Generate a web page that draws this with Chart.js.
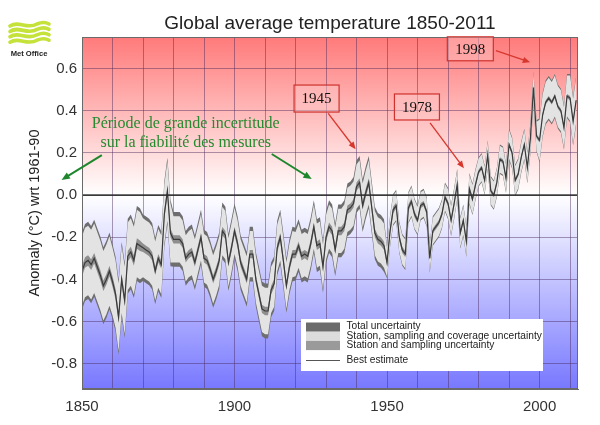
<!DOCTYPE html>
<html>
<head>
<meta charset="utf-8">
<script src="https://cdn.jsdelivr.net/npm/chart.js@4.4.0/dist/chart.umd.min.js"></script>
<style>
  html, body { margin: 0; padding: 0; background: #fff; }
</style>
</head>
<body>
<canvas id="chart" width="600" height="425"></canvas>
<script>
// annual best estimate (1850 .. 2012)
const firstYear = 1850;
const bestEstimate = [
  -0.36, -0.32, -0.31, -0.33, -0.30, -0.34, -0.38, -0.43, -0.40, -0.36,
  -0.41, -0.47, -0.58, -0.40, -0.50, -0.29, -0.27, -0.31, -0.23, -0.24,
  -0.25, -0.26, -0.27, -0.29, -0.36, -0.30, -0.33, -0.09,  0.02, -0.18,
  -0.21, -0.21, -0.21, -0.23, -0.30, -0.28, -0.27, -0.32, -0.26, -0.20,
  -0.30, -0.31, -0.35, -0.40, -0.36, -0.31, -0.17, -0.19, -0.32, -0.25,
  -0.17, -0.23, -0.32, -0.36, -0.40, -0.28, -0.28, -0.40, -0.47, -0.54,
  -0.55, -0.55, -0.45, -0.42, -0.25, -0.20, -0.31, -0.43, -0.34, -0.28,
  -0.28, -0.24, -0.29, -0.28, -0.29, -0.23, -0.15, -0.24, -0.23, -0.34,
  -0.20, -0.15, -0.17, -0.26, -0.17, -0.17, -0.15, -0.07, -0.06, -0.04,
   0.04,  0.06, -0.05,  0.01,  0.06, -0.06, -0.18, -0.21, -0.22, -0.24,
  -0.32, -0.17, -0.07, -0.05, -0.20, -0.26, -0.28, -0.06, -0.03, -0.09,
  -0.12, -0.05, -0.04, -0.08, -0.30, -0.17, -0.15, -0.13, -0.09, -0.01,
  -0.04, -0.12, -0.04,  0.05, -0.18, -0.12, -0.22,  0.03, -0.02,  0.05,
   0.11,  0.13,  0.07,  0.19,  0.02,  0.00,  0.06,  0.17,  0.16,  0.08,
   0.24,  0.20,  0.07,  0.10,  0.18,  0.24,  0.13,  0.27,  0.51,  0.28,
   0.26,  0.38,  0.44,  0.46,  0.44,  0.47,  0.42,  0.40,  0.32,  0.47,
   0.46,  0.35,  0.45
];
const years = bestEstimate.map((v, i) => firstYear + i);

// uncertainty half-widths per decade (1850s .. 2010s)
const totalUnc    = [0.183, 0.178, 0.158, 0.130, 0.135, 0.130, 0.130, 0.125, 0.125, 0.125, 0.075, 0.070, 0.075, 0.070, 0.075, 0.105, 0.115];
const coverageUnc = [0.165, 0.160, 0.140, 0.110, 0.115, 0.110, 0.110, 0.105, 0.105, 0.105, 0.068, 0.063, 0.068, 0.064, 0.068, 0.097, 0.107];
const samplingUnc = [0.025, 0.025, 0.020, 0.020, 0.020, 0.020, 0.020, 0.020, 0.020, 0.020, 0.015, 0.012, 0.012, 0.010, 0.010, 0.010, 0.010];

const xTicks = [1850, 1860, 1870, 1880, 1890, 1900, 1910, 1920, 1930, 1940, 1950, 1960, 1970, 1980, 1990, 2000, 2010];
const xLabelYears = [1850, 1900, 1950, 2000];
const yTicks = [-0.8, -0.6, -0.4, -0.2, 0.0, 0.2, 0.4, 0.6];

const legendLabels = [
  'Total uncertainty',
  'Station, sampling and coverage uncertainty',
  'Station and sampling uncertainty',
  'Best estimate'
];

function band(halfWidths, sign) {
  return years.map((yr, i) => ({
    x: yr,
    y: bestEstimate[i] + sign * halfWidths[Math.floor((yr - firstYear) / 10)]
  }));
}

const bandStyle = { borderWidth: 0, pointRadius: 0, tension: 0 };

// background gradient: red above 0, blue below
const backgroundPlugin = {
  id: 'backgroundPlugin',
  beforeDraw(chart) {
    const { ctx, chartArea: a, scales } = chart;
    const zero = scales.y.getPixelForValue(0);
    const stop = (zero - a.top) / (a.bottom - a.top);
    const g = ctx.createLinearGradient(0, a.top, 0, a.bottom);
    g.addColorStop(0, 'rgb(255,122,122)');
    g.addColorStop(stop, 'rgb(255,255,255)');
    g.addColorStop(1, 'rgb(120,120,255)');
    ctx.save();
    ctx.fillStyle = g;
    ctx.fillRect(a.left, a.top, a.right - a.left, a.bottom - a.top);
    ctx.restore();
  }
};

const framePlugin = {
  id: 'framePlugin',
  afterDatasetsDraw(chart) {
    const { ctx, chartArea: a, scales } = chart;
    const zero = scales.y.getPixelForValue(0);
    ctx.save();
    ctx.strokeStyle = 'rgba(45,45,45,0.9)';
    ctx.lineWidth = 1.8;
    ctx.beginPath();
    ctx.moveTo(a.left, zero);
    ctx.lineTo(a.right, zero);
    ctx.stroke();
    ctx.strokeStyle = '#6a6a6a';
    ctx.lineWidth = 1;
    ctx.strokeRect(a.left + 0.5, a.top + 0.5, a.right - a.left - 1, a.bottom - a.top - 1);
    ctx.restore();
  }
};

function arrow(ctx, x1, y1, x2, y2, color, width, head) {
  const ang = Math.atan2(y2 - y1, x2 - x1);
  ctx.strokeStyle = color;
  ctx.fillStyle = color;
  ctx.lineWidth = width;
  ctx.beginPath();
  ctx.moveTo(x1, y1);
  ctx.lineTo(x2 - Math.cos(ang) * head * 0.8, y2 - Math.sin(ang) * head * 0.8);
  ctx.stroke();
  ctx.beginPath();
  ctx.moveTo(x2, y2);
  ctx.lineTo(x2 - head * Math.cos(ang - 0.4), y2 - head * Math.sin(ang - 0.4));
  ctx.lineTo(x2 - head * Math.cos(ang + 0.4), y2 - head * Math.sin(ang + 0.4));
  ctx.closePath();
  ctx.fill();
}

// annotation positions in data units (year, anomaly)
const greenNote = { x: 1884, y: 0.337, lines: ['Période de grande incertitude', 'sur la fiabilité des mesures'] };
const greenArrows = [
  [1856.5, 0.190, 1843.3, 0.072],
  [1912.2, 0.195, 1925.3, 0.076]
];
const yearBoxes = [
  { text: '1945', x: 1926.9, y: 0.458, w: 45, h: 27, arrow: [1930.7, 0.388, 1939.7, 0.217] },
  { text: '1978', x: 1959.8, y: 0.418, w: 45, h: 26, arrow: [1964.1, 0.343, 1975.2, 0.127] },
  { text: '1998', x: 1977.3, y: 0.694, w: 46, h: 24, arrow: [1985.7, 0.685, 1996.9, 0.630] }
];

const notesPlugin = {
  id: 'notesPlugin',
  afterDraw(chart) {
    const { ctx, scales } = chart;
    const px = v => scales.x.getPixelForValue(v);
    const py = v => scales.y.getPixelForValue(v);
    ctx.save();

    // green note
    ctx.font = '16px "Liberation Serif", "DejaVu Serif", serif';
    ctx.fillStyle = 'rgb(38,138,48)';
    ctx.textAlign = 'center';
    ctx.textBaseline = 'middle';
    ctx.fillText(greenNote.lines[0], px(greenNote.x), py(greenNote.y));
    ctx.fillText(greenNote.lines[1], px(greenNote.x), py(greenNote.y) + 19);
    greenArrows.forEach(a => arrow(ctx, px(a[0]), py(a[1]), px(a[2]), py(a[3]), 'rgb(30,135,45)', 2, 9));

    // red year boxes
    yearBoxes.forEach(b => {
      const cx = px(b.x), cy = py(b.y);
      ctx.fillStyle = 'rgba(255,200,200,0.45)';
      ctx.fillRect(cx - b.w / 2, cy - b.h / 2, b.w, b.h);
      ctx.strokeStyle = 'rgb(205,50,45)';
      ctx.lineWidth = 1.2;
      ctx.strokeRect(cx - b.w / 2, cy - b.h / 2, b.w, b.h);
      ctx.fillStyle = '#111';
      ctx.font = '15px "Liberation Serif", "DejaVu Serif", serif';
      ctx.fillText(b.text, cx, cy + 1);
      const a = b.arrow;
      arrow(ctx, px(a[0]), py(a[1]), px(a[2]), py(a[3]), 'rgb(215,55,45)', 1.3, 8);
    });

    // legend
    ctx.fillStyle = '#fff';
    ctx.fillRect(301, 319, 242, 52);
    const swatches = ['#6b6b6b', '#dcdcdc', '#9a9a9a'];
    swatches.forEach((c, i) => {
      ctx.fillStyle = c;
      ctx.fillRect(306, 322.5 + i * 9.2, 34, 9.2);
    });
    ctx.strokeStyle = '#555';
    ctx.lineWidth = 1;
    ctx.beginPath();
    ctx.moveTo(306, 360.5);
    ctx.lineTo(340, 360.5);
    ctx.stroke();
    ctx.fillStyle = '#222';
    ctx.textAlign = 'left';
    ctx.font = '10.2px "Liberation Sans", Arial, sans-serif';
    [326.5, 336, 345, 360].forEach((y, i) => ctx.fillText(legendLabels[i], 346.5, y));

    // Met Office logo
    ctx.strokeStyle = '#c4e23a';
    ctx.lineWidth = 3.6;
    ctx.lineCap = 'round';
    for (let i = 0; i < 4; i++) {
      const y = 25 + i * 5.4;
      ctx.beginPath();
      ctx.moveTo(10, y + 1);
      ctx.bezierCurveTo(19, y - 5, 27, y + 5, 37, y - 1);
      ctx.quadraticCurveTo(44, y - 4, 49, y - 1);
      ctx.stroke();
    }
    ctx.fillStyle = '#222';
    ctx.textAlign = 'center';
    ctx.font = 'bold 7.6px "Liberation Sans", Arial, sans-serif';
    ctx.fillText('Met Office', 29, 54);
    ctx.restore();
  }
};

Chart.defaults.font.family = '"Liberation Sans", Arial, sans-serif';

new Chart(document.getElementById('chart'), {
  type: 'line',
  data: {
    datasets: [
      { label: legendLabels[3], data: years.map((yr, i) => ({ x: yr, y: bestEstimate[i] })),
        borderColor: '#3a3a3a', borderWidth: 1.2, pointRadius: 0, tension: 0, fill: false },
      { label: 'sampling hi', data: band(samplingUnc, 1), fill: '+1', backgroundColor: '#8e8e8e', ...bandStyle },
      { label: 'sampling lo', data: band(samplingUnc, -1), fill: false, ...bandStyle },
      { label: 'coverage hi', data: band(coverageUnc, 1), fill: '+1', backgroundColor: '#e3e3e3', ...bandStyle },
      { label: 'coverage lo', data: band(coverageUnc, -1), fill: false, ...bandStyle },
      { label: 'total hi', data: band(totalUnc, 1), fill: '+1', backgroundColor: '#6e6e6e', ...bandStyle },
      { label: 'total lo', data: band(totalUnc, -1), fill: false, ...bandStyle }
    ]
  },
  options: {
    responsive: false,
    animation: false,
    layout: { padding: { left: 0, right: 22, top: 0, bottom: 0 } },
    plugins: {
      legend: { display: false },
      tooltip: { enabled: false },
      title: {
        display: true,
        fullSize: false,
        text: 'Global average temperature 1850-2011',
        color: '#222',
        font: { size: 19, weight: 'normal' },
        padding: { top: 12, bottom: 2.2 }
      }
    },
    scales: {
      x: {
        type: 'linear',
        min: 1850,
        max: 2012.6,
        afterBuildTicks: s => { s.ticks = xTicks.map(v => ({ value: v })); },
        afterFit: s => { s.height = 36; },
        grid: { color: 'rgba(70,40,90,0.45)', drawTicks: false },
        border: { color: '#6a6a6a' },
        ticks: {
          autoSkip: false,
          maxRotation: 0,
          padding: 9,
          color: '#333',
          font: { size: 15 },
          callback: v => xLabelYears.includes(v) ? String(v) : ''
        }
      },
      y: {
        min: -0.92,
        max: 0.75,
        afterBuildTicks: s => { s.ticks = yTicks.map(v => ({ value: v })); },
        afterFit: s => { s.width = 82; },
        grid: { color: 'rgba(70,40,90,0.45)', drawTicks: false },
        border: { color: '#6a6a6a' },
        ticks: {
          padding: 5,
          color: '#333',
          font: { size: 15 },
          callback: v => v.toFixed(1)
        },
        title: {
          display: true,
          text: 'Anomaly (°C) wrt 1961-90',
          color: '#222',
          font: { size: 14.5 },
          padding: { top: 26, bottom: 0 }
        }
      }
    }
  },
  plugins: [backgroundPlugin, framePlugin, notesPlugin]
});
</script>
</body>
</html>
